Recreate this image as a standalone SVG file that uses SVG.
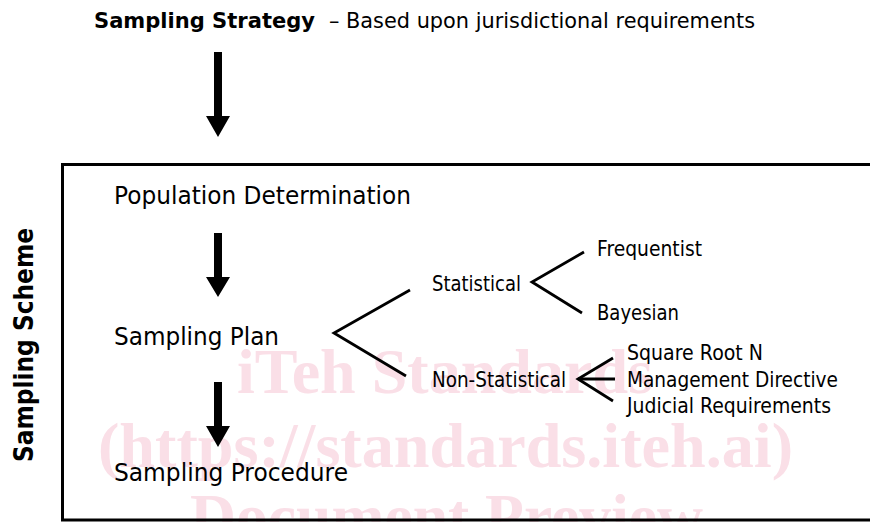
<svg xmlns="http://www.w3.org/2000/svg" width="870" height="522" viewBox="0 0 870 522">
<style>
.t{font-family:"DejaVu Sans","Liberation Sans",sans-serif;fill:#000}
.m{font-size:24px}
.s{font-size:21px}
.b{font-weight:bold}
.wm{font-family:"Liberation Serif","Times New Roman",serif;font-weight:bold;font-size:63px;fill:#fadfe7}
.ln{stroke:#000;stroke-width:2.8;fill:none;stroke-linecap:butt}
.ar{fill:#000}
</style>
<rect width="870" height="522" fill="#fff"/>
<g id="watermark">
<text class="wm" x="237" y="393" textLength="416" lengthAdjust="spacingAndGlyphs">iTeh Standards</text>
<text class="wm" x="98" y="467" textLength="695" lengthAdjust="spacingAndGlyphs">(https://standards.iteh.ai)</text>
<text class="wm" x="190" y="538" textLength="513" lengthAdjust="spacingAndGlyphs">Document Preview</text>
</g>
<g id="title">
<text class="t b" x="94" y="28" font-size="22" textLength="221" lengthAdjust="spacingAndGlyphs">Sampling Strategy</text>
<text class="t" x="329" y="28" font-size="22" textLength="426" lengthAdjust="spacingAndGlyphs">– Based upon jurisdictional requirements</text>
</g>
<g id="scheme-box">
<rect x="62.5" y="164.5" width="820" height="355.5" fill="none" stroke="#000" stroke-width="3"/>
<text class="t b" transform="translate(33,345) rotate(-90)" font-size="27" text-anchor="middle" textLength="234" lengthAdjust="spacingAndGlyphs">Sampling Scheme</text>
</g>
<g id="population-determination">
<text class="t m" x="114" y="204" textLength="297" lengthAdjust="spacingAndGlyphs">Population Determination</text>
</g>
<g id="sampling-plan">
<text class="t m" x="114" y="345" textLength="165" lengthAdjust="spacingAndGlyphs">Sampling Plan</text>
</g>
<g id="sampling-procedure">
<text class="t m" x="114" y="481" textLength="234" lengthAdjust="spacingAndGlyphs">Sampling Procedure</text>
</g>
<g id="statistical">
<text class="t s" x="432" y="291" textLength="89" lengthAdjust="spacingAndGlyphs">Statistical</text>
</g>
<g id="frequentist">
<text class="t s" x="597" y="256" textLength="105" lengthAdjust="spacingAndGlyphs">Frequentist</text>
</g>
<g id="bayesian">
<text class="t s" x="597" y="320" textLength="82" lengthAdjust="spacingAndGlyphs">Bayesian</text>
</g>
<g id="non-statistical">
<text class="t s" x="432" y="387" textLength="134" lengthAdjust="spacingAndGlyphs">Non-Statistical</text>
</g>
<g id="square-root-n">
<text class="t s" x="627" y="360" textLength="136" lengthAdjust="spacingAndGlyphs">Square Root N</text>
</g>
<g id="management-directive">
<text class="t s" x="627" y="387" textLength="211" lengthAdjust="spacingAndGlyphs">Management Directive</text>
</g>
<g id="judicial-requirements">
<text class="t s" x="627" y="413" textLength="204" lengthAdjust="spacingAndGlyphs">Judicial Requirements</text>
</g>
<g id="connectors">
<polygon class="ar" points="214,52 222,52 222,116 230,116 218,137 206,116 214,116"/>
<polygon class="ar" points="214,233 222,233 222,277 230,277 218,297 206,277 214,277"/>
<polygon class="ar" points="214,382 222,382 222,426 230,426 218,447 206,426 214,426"/>
<polyline class="ln" points="410,290 334,333 406,376"/>
<polyline class="ln" points="584,252 532,282 582,313"/>
<polyline class="ln" points="613,358 578,379 613,401"/>
<line class="ln" x1="578" y1="379" x2="615" y2="379"/>
</g>
</svg>
